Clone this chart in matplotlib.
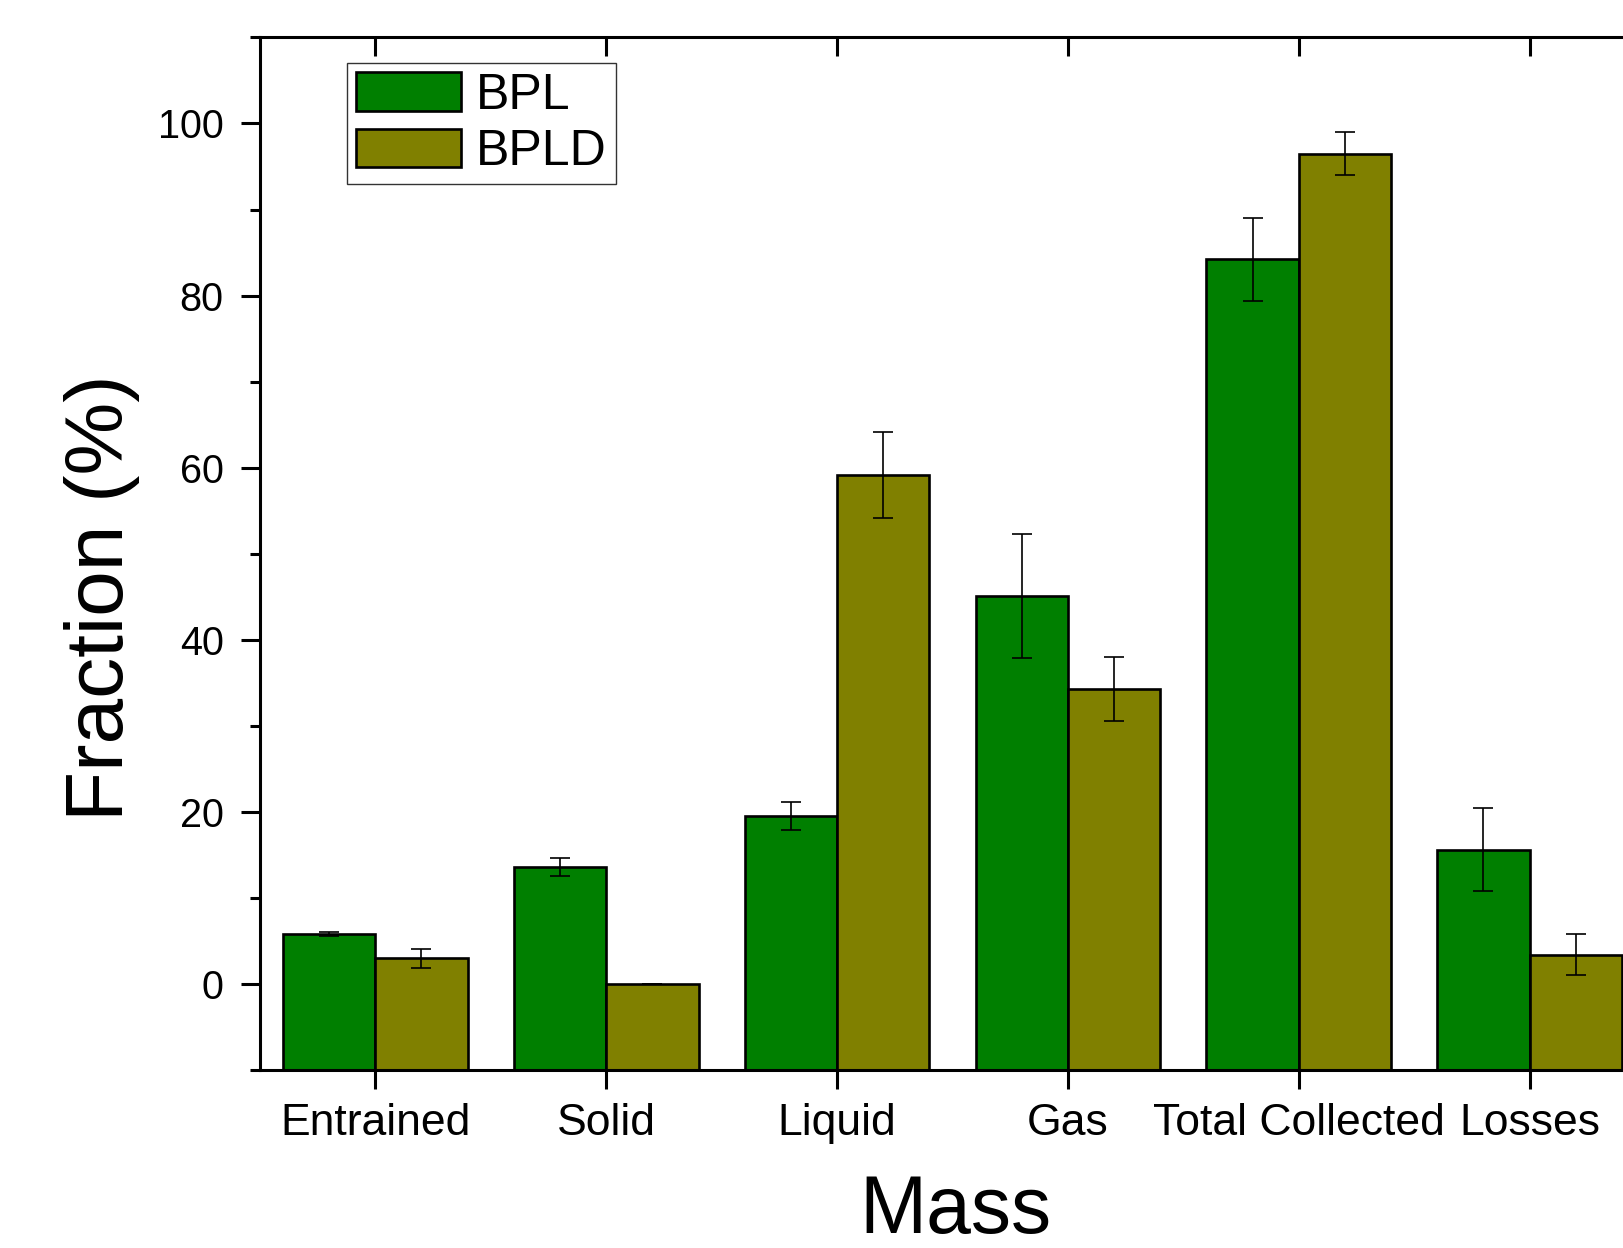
import numpy as np
import matplotlib
matplotlib.use("Agg")
import matplotlib.pyplot as plt
from matplotlib.ticker import MultipleLocator

plt.rcParams['font.family'] = ['Liberation Sans', 'DejaVu Sans']

categories = ["Entrained", "Solid", "Liquid", "Gas", "Total Collected", "Losses"]
bpl = [5.8, 13.6, 19.5, 45.1, 84.2, 15.6]
bpl_err = [0.2, 1.0, 1.6, 7.2, 4.8, 4.8]
bpld = [3.0, 0.0, 59.2, 34.3, 96.5, 3.4]
bpld_err = [1.1, 0.0, 5.0, 3.7, 2.5, 2.4]

Y_MIN, Y_MAX = -10, 110

fig = plt.figure(figsize=(16.24, 12.48), dpi=100)
# axes extend slightly past the right edge of the canvas
ax = fig.add_axes([0.160, 0.1426, 0.853, 0.8274])

x = np.arange(len(categories))
w = 0.4
# bars rise from the bottom of the axis
ax.bar(x - w / 2, np.array(bpl) - Y_MIN, bottom=Y_MIN, width=w, color="#007F00",
       edgecolor="black", linewidth=1.9, label="BPL", zorder=2)
ax.bar(x + w / 2, np.array(bpld) - Y_MIN, bottom=Y_MIN, width=w, color="#808000",
       edgecolor="black", linewidth=1.9, label="BPLD", zorder=2)
ax.errorbar(x - w / 2, bpl, yerr=bpl_err, fmt="none", ecolor="black",
            elinewidth=1.2, capsize=7, capthick=1.2, zorder=3)
ax.errorbar(x + w / 2, bpld, yerr=bpld_err, fmt="none", ecolor="black",
            elinewidth=1.2, capsize=7, capthick=1.2, zorder=3)

ax.set_xlim(-0.5, 5.5)
ax.set_ylim(Y_MIN, Y_MAX)
ax.set_xticks(x)
ax.set_xticklabels(categories)
ax.yaxis.set_major_locator(MultipleLocator(20))
ax.yaxis.set_minor_locator(MultipleLocator(10))

for s in ax.spines.values():
    s.set_linewidth(2.2)

ax.tick_params(axis="x", which="major", direction="out", length=14, width=2.2,
               labelsize=32, pad=10, top=True)
ax.tick_params(axis="y", which="major", direction="out", length=14, width=2.2,
               labelsize=28.5, pad=12)
ax.tick_params(axis="y", which="minor", direction="out", length=7, width=2.2)
# top ticks point inward
for t in ax.xaxis.get_major_ticks():
    t.tick2line.set_marker(matplotlib.markers.TICKDOWN)

ax.set_ylabel("Fraction (%)", fontsize=59)
ax.yaxis.set_label_coords(-0.0866, 0.457)
ax.set_xlabel("Mass", fontsize=58, va="center")
ax.xaxis.set_label_coords(0.502, -0.137)

leg = ax.legend(loc="upper left", bbox_to_anchor=(0.063, 0.975), borderaxespad=0,
                fontsize=36, frameon=True, fancybox=False, edgecolor="black",
                handlelength=2.1, handleheight=0.8, handletextpad=0.3,
                labelspacing=0.2, borderpad=0.18)
leg.get_frame().set_linewidth(1.0)

fig.savefig("out.png", dpi=100)
